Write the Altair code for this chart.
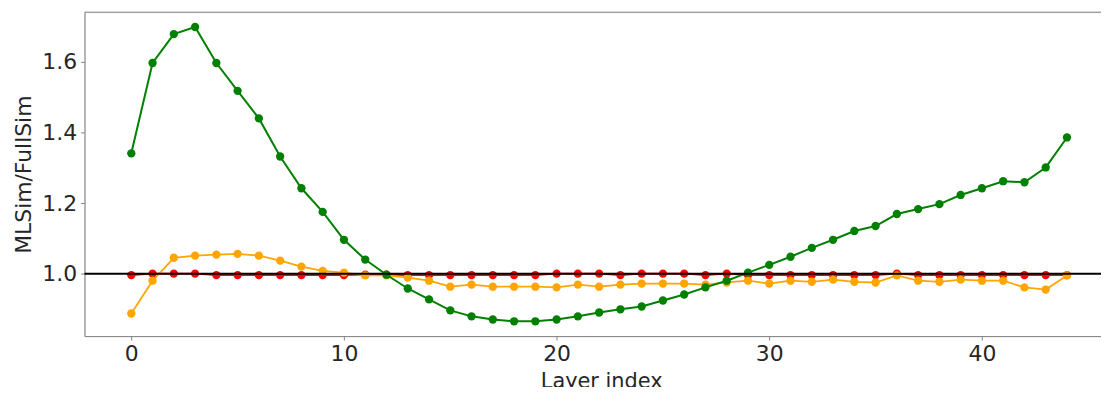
import altair as alt
import pandas as pd

layers = list(range(45))

green = [1.341, 1.597, 1.679, 1.699, 1.597, 1.518, 1.440, 1.332, 1.242, 1.175,
         1.096, 1.040, 0.997, 0.958, 0.927, 0.896, 0.879, 0.870, 0.865, 0.865,
         0.870, 0.879, 0.890, 0.899, 0.907, 0.924, 0.941, 0.961, 0.980, 1.003,
         1.025, 1.048, 1.073, 1.096, 1.121, 1.135, 1.169, 1.183, 1.197, 1.223,
         1.242, 1.262, 1.259, 1.301, 1.386]

orange = [0.887, 0.980, 1.045, 1.051, 1.054, 1.056, 1.051, 1.037, 1.020, 1.008,
          1.003, 0.995, 0.995, 0.989, 0.980, 0.963, 0.969, 0.963, 0.963, 0.963,
          0.961, 0.969, 0.963, 0.969, 0.972, 0.972, 0.972, 0.969, 0.975, 0.980,
          0.972, 0.980, 0.977, 0.983, 0.977, 0.975, 0.995, 0.980, 0.977, 0.983,
          0.980, 0.980, 0.961, 0.955, 0.995]

red = [0.996, 1.000, 1.000, 1.000, 0.996, 0.996, 0.996, 0.996, 0.996, 0.996,
       0.996, 0.997, 0.997, 0.996, 0.996, 0.996, 0.996, 0.996, 0.996, 0.996,
       1.000, 1.000, 1.000, 0.996, 1.000, 1.000, 1.000, 0.996, 1.000, 0.996,
       0.996, 0.996, 0.996, 0.996, 0.996, 0.996, 1.000, 0.996, 0.996, 0.996,
       0.996, 0.996, 0.996, 0.996, 0.996]

series_names = ["red", "orange", "green"]
series_colors = ["#ff0000", "#ffa500", "#008000"]
reference_value = [1.0]

x_ticks = [0, 10, 20, 30, 40]
y_ticks = [1.0, 1.2, 1.4, 1.6]

rows = []
for name, vals in zip(series_names, [red, orange, green]):
    for i, v in zip(layers, vals):
        rows.append({"layer": i, "ratio": v, "series": name})
df = pd.DataFrame(rows)

W, H = 1023, 326
AX = "#808080"
TXT = "#262626"

x_enc = alt.X("layer:Q",
              scale=alt.Scale(domain=[-2.2, 45.6], nice=False, zero=False),
              axis=alt.Axis(values=x_ticks, format="d", title="Layer index",
                            labelFontSize=22, titleFontSize=21,
                            labelPadding=4, titlePadding=6,
                            titleX=520, titleAlign="center",
                            tickSize=4, labelColor=TXT, titleColor=TXT,
                            titleFontWeight="normal",
                            domainColor=AX, tickColor=AX, grid=False))
y_enc = alt.Y("ratio:Q",
              scale=alt.Scale(domain=[0.823, 1.741], nice=False, zero=False),
              axis=alt.Axis(values=y_ticks, format=".1f", title="MLSim/FullSim",
                            labelFontSize=22, titleFontSize=22,
                            labelPadding=4, titlePadding=6,
                            tickSize=4, labelColor=TXT, titleColor=TXT,
                            titleFontWeight="normal",
                            domainColor=AX, tickColor=AX, grid=False))

color_enc = alt.Color("series:N",
                      scale=alt.Scale(domain=series_names, range=series_colors),
                      legend=None)

base = alt.Chart(df)

charts = []
for name in series_names:
    sub = base.transform_filter(alt.datum.series == name)
    line = sub.mark_line(strokeWidth=2 if name == "green" else 1.8).encode(
        x=x_enc, y=y_enc, color=color_enc, order="layer:Q")
    pts = sub.mark_circle(size=70, opacity=1).encode(
        x=x_enc, y=y_enc, color=color_enc)
    charts += [line, pts]

ref = alt.Chart(pd.DataFrame({"ratio": reference_value})).mark_rule(
    color="black", strokeWidth=2).encode(y="ratio:Q")

top_border = alt.Chart(pd.DataFrame({"ratio": reference_value})).mark_rule(
    color=AX, strokeWidth=1).encode(
        x=alt.value(0), x2=alt.value(W), y=alt.value(0))

chart = alt.layer(*charts, ref, top_border).properties(
    width=W, height=H,
    autosize=alt.AutoSizeParams(type="none"),
    padding={"left": 77, "top": 3, "right": 0, "bottom": 50},
).configure_view(stroke=None).configure(font="DejaVu Sans")

chart.save("out.html", embed_options={"renderer": "svg", "actions": False})
